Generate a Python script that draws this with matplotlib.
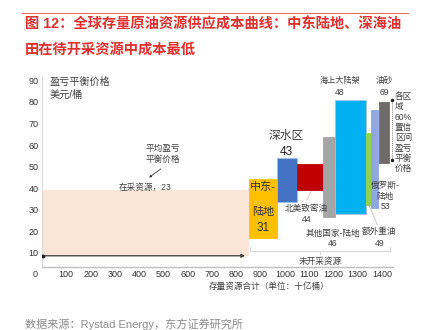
import matplotlib
matplotlib.use("Agg")
import matplotlib.pyplot as plt
from matplotlib.lines import Line2D

plt.rcParams['font.family'] = ['Liberation Sans', 'Noto Sans CJK SC']

# floating bars: cumulative resource span (bn bbl) and 60% interval of breakeven price
names = ['中东-陆地', '深水区', '北美致密油', '其他国家-陆地', '海上大陆架', '额外重油', '俄罗斯-陆地', '油砂']
breakeven = [31, 43, 44, 46, 48, 49, 53, 69]
x_start = [852, 967, 1049, 1156, 1206, 1333, 1354, 1387]
x_end = [967, 1049, 1156, 1206, 1333, 1354, 1383, 1428]
low = [16.8, 33.8, 39.0, 26.8, 28.0, 32.2, 30.7, 51.8]
high = [44.1, 53.8, 51.3, 63.8, 81.1, 65.7, 76.2, 80.0]
colors = ['#FFC000', '#4472C4', '#C00000', '#A5A5A5', '#00B0F0', '#92D050', '#8EA9DB', '#6F6A68']

# producing resources band
prod_span = [0, 852]
prod_low, prod_high = 8.7, 39.2
prod_avg = 23

yticks = [10, 20, 30, 40, 50, 60, 70, 80, 90]
xticks = [100, 200, 300, 400, 500, 600, 700, 800, 900, 1000, 1100, 1200, 1300, 1400]

txt = '#404040'
fs = 6.2

fig = plt.figure(figsize=(4.33, 3.30), dpi=100)
ax = fig.add_axes([42 / 433, 63 / 330, 351 / 433, 191 / 330])
ax.set_xlim(0, 1445)
ax.set_ylim(3.5, 92)

ax.bar(prod_span[0], prod_high - prod_low, width=prod_span[1] - prod_span[0], bottom=prod_low,
       align='edge', color='#FBE5D6', zorder=1)
ax.annotate('', xy=(prod_span[1] - 4, prod_low), xytext=(4, prod_low),
            arrowprops=dict(arrowstyle='-|>', color='#4a4440', lw=1.0, mutation_scale=5), zorder=3)
ax.plot([4], [prod_low], 'o', color='#222222', ms=1.8, zorder=4)

for i in range(len(names)):
    edge = '#9DC3E6' if i in (1, 4) else colors[i]
    ax.bar(x_start[i], high[i] - low[i], width=x_end[i] - x_start[i], bottom=low[i],
           align='edge', color=colors[i], edgecolor=edge, lw=0.6, zorder=2)

for s in ['top', 'right']:
    ax.spines[s].set_visible(False)
ax.spines['left'].set_color('#D9D9D9')
ax.spines['bottom'].set_color('#BFBFBF')
ax.spines['bottom'].set_linewidth(1.0)
ax.set_yticks(yticks)
ax.set_xticks(xticks)
ax.tick_params(length=0, labelsize=6.5, colors='#333333', pad=2.5)
ax.text(-28, 3.5 - 3.4, '0', fontsize=6.5, color='#333333', ha='center', va='center', clip_on=False)
ax.text(935, -5.4, '存量资源合计（单位：十亿桶）', fontsize=fs, color=txt, ha='center', va='center', clip_on=False)

ax.text(33, 91.5, '盈亏平衡价格\n美元/桶', fontsize=7.3, color=txt, ha='left', va='top', linespacing=1.3)

# in-production annotations
ax.text(498, 56, '平均盈亏\n平衡价格', fontsize=fs, color=txt, ha='center', va='center', linespacing=1.35)
ax.annotate('', xy=(432, 44.2), xytext=(498, 49.7),
            arrowprops=dict(arrowstyle='-|>', color='#333333', lw=0.6, mutation_scale=3))
ax.text(424, 40.4, '在采资源，%d' % prod_avg, fontsize=fs, color=txt, ha='center', va='center')

# bar labels
ax.text(909, 40.5, '中东-', fontsize=8, color='#333333', ha='center', va='center')
ax.text(909, 29.2, '陆地', fontsize=8, color='#333333', ha='center', va='center')
ax.text(909, 21.4, str(breakeven[0]), fontsize=8.5, color='#333333', ha='center', va='center')

ax.text(1004, 64, names[1], fontsize=8.5, color=txt, ha='center', va='center')
ax.text(1004, 57, str(breakeven[1]), fontsize=8.5, color='#222222', ha='center', va='center')

ax.text(1089, 30.4, names[2], fontsize=fs, color=txt, ha='center', va='center')
ax.text(1089, 25.3, str(breakeven[2]), fontsize=fs, color=txt, ha='center', va='center')
ax.plot([1090, 1107], [34.5, 38.6], color='#F4B6B6', lw=0.6)

ax.text(1198, 19.2, names[3], fontsize=fs, color=txt, ha='center', va='center')
ax.text(1198, 14.2, str(breakeven[3]), fontsize=fs, color=txt, ha='center', va='center')

ax.text(1227, 89.8, names[4], fontsize=5.9, color=txt, ha='center', va='center')
ax.text(1227, 84.2, str(breakeven[4]), fontsize=fs, color=txt, ha='center', va='center')

ax.text(1389, 20.2, names[5], fontsize=fs, color=txt, ha='center', va='center')
ax.text(1389, 14.3, str(breakeven[5]), fontsize=fs, color=txt, ha='center', va='center')
ax.plot([1346, 1380], [32.2, 23.2], color='#BFBFBF', lw=0.6)

ax.text(1412, 36.3, '俄罗斯-\n陆地\n' + str(breakeven[6]), fontsize=fs, color=txt,
        ha='center', va='center', linespacing=1.2)

ax.text(1411, 89.8, names[7], fontsize=fs, color=txt, ha='center', va='center')
ax.text(1411, 84.2, str(breakeven[7]), fontsize=fs, color=txt, ha='center', va='center')

# 60% confidence interval marker
ax.plot([1440, 1440], [53, 80.8], color='#555555', lw=0.6, ls=(0, (1, 1.5)), clip_on=False)
ax.plot([1440, 1440], [53, 80.8], 'o', color='#222222', ms=1.5, clip_on=False)
ax.text(1453, 84.5, '各区\n域\n60%\n置信\n区间\n盈亏\n平衡\n价格', fontsize=fs, color=txt,
        ha='left', va='top', linespacing=1.18, clip_on=False)

# undeveloped resources bracket
ax.plot([856, 856, 1432, 1432], [12.6, 10.9, 10.9, 12.6], color='#D9D9D9', lw=0.8)
ax.plot([1144, 1144], [10.9, 9.3], color='#D9D9D9', lw=0.8)
ax.text(1144, 6.3, '未开采资源', fontsize=fs, color=txt, ha='center', va='center')

# title block
fig.add_artist(Line2D([22 / 433, 408 / 433], [1 - 13 / 330, 1 - 13 / 330], color='#E46C6C', lw=0.8))
fig.text(25 / 433, 1 - 25 / 330, '图 12：全球存量原油资源供应成本曲线：中东陆地、深海油',
         fontsize=10.3, color='#E0312F', fontweight='bold', ha='left', va='center')
fig.text(25 / 433, 1 - 50 / 330, '田在待开采资源中成本最低',
         fontsize=10.3, color='#E0312F', fontweight='bold', ha='left', va='center')
fig.text(25 / 433, 1 - 324 / 330, '数据来源：Rystad Energy，东方证券研究所',
         fontsize=8, color='#8C8C8C', ha='left', va='center')

plt.savefig('out.png', dpi=100)
